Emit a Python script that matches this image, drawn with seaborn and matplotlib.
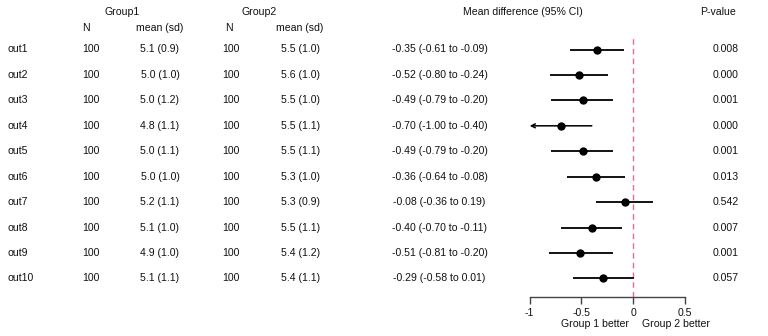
import numpy as np
import pandas as pd
import matplotlib
matplotlib.use("Agg")
import matplotlib.pyplot as plt
import matplotlib.transforms as mtransforms
import seaborn as sns

outcomes = ["out1", "out2", "out3", "out4", "out5", "out6", "out7", "out8", "out9", "out10"]
n1 = [100] * 10
mean1 = [5.1, 5.0, 5.0, 4.8, 5.0, 5.0, 5.2, 5.1, 4.9, 5.1]
sd1 = [0.9, 1.0, 1.2, 1.1, 1.1, 1.0, 1.1, 1.0, 1.0, 1.1]
n2 = [100] * 10
mean2 = [5.5, 5.6, 5.5, 5.5, 5.5, 5.3, 5.3, 5.5, 5.4, 5.4]
sd2 = [1.0, 1.0, 1.0, 1.1, 1.1, 1.0, 0.9, 1.1, 1.2, 1.1]
est = [-0.35, -0.52, -0.49, -0.70, -0.49, -0.36, -0.08, -0.40, -0.51, -0.29]
lo = [-0.61, -0.80, -0.79, -1.00, -0.79, -0.64, -0.36, -0.70, -0.81, -0.58]
hi = [-0.09, -0.24, -0.20, -0.40, -0.20, -0.08, 0.19, -0.11, -0.20, 0.01]
pval = [0.008, 0.000, 0.001, 0.000, 0.001, 0.013, 0.542, 0.007, 0.001, 0.057]
xticks = [-1, -0.5, 0, 0.5]
xticklabels = ["-1", "-0.5", "0", "0.5"]
xlim = (-1.0, 0.5)

df = pd.DataFrame({"outcome": outcomes, "est": est, "lo": lo, "hi": hi,
                   "row": np.arange(len(outcomes))})

sns.set_style("white")
plt.rcParams["font.family"] = ["Liberation Sans", "DejaVu Sans"]
FS = 7.6
TXT = "#111111"

W, H = 768, 336
fig = plt.figure(figsize=(W / 100, H / 100), dpi=100)

# forest axes placement in pixels
x0, x1 = 529.7, 685.0
ytop, ybot = 36.0, 296.5
row0, step = 49.5, 25.44
ax = fig.add_axes([x0 / W, (H - ybot) / H, (x1 - x0) / W, (ybot - ytop) / H])
ax.set_xlim(*xlim)
ax.set_ylim((ybot - row0) / step, (ytop - row0) / step)
ax.patch.set_alpha(0)

# dashed reference line
ax.axvline(0, color="#E0708A", lw=1.0, dashes=(4, 3), zorder=1)

# confidence intervals
for _, r in df.iterrows():
    if r["lo"] <= xlim[0]:
        ax.annotate("", xy=(xlim[0], r["row"]), xytext=(r["hi"], r["row"]),
                    arrowprops=dict(arrowstyle="->", lw=1.1, color="black",
                                    shrinkA=0, shrinkB=0, mutation_scale=7),
                    zorder=2)
    else:
        ax.hlines(r["row"], r["lo"], r["hi"], color="black", lw=1.3, zorder=2)

sns.scatterplot(data=df, x="est", y="row", ax=ax, s=36, color="black",
                edgecolor="black", linewidth=0, zorder=3, legend=False)
ax.set_xlim(*xlim)
ax.set_ylim((ybot - row0) / step, (ytop - row0) / step)

for s in ["top", "right", "left"]:
    ax.spines[s].set_visible(False)
ax.spines["bottom"].set_color("#444444")
ax.spines["bottom"].set_linewidth(1.0)
ax.set_yticks([])
ax.set_xticks(xticks)
ax.set_xticklabels(xticklabels)
ax.tick_params(axis="x", direction="out", length=5, width=1.0, color="#444444",
               labelsize=FS, labelcolor=TXT, pad=3, bottom=True)
ax.set_xlabel("")
ax.set_ylabel("")

# text table using blended transform (x in pixels, y in row units)
tr = mtransforms.blended_transform_factory(
    mtransforms.Affine2D().scale(1 / W, 1) + fig.transFigure
    if False else fig.transFigure, ax.transData)

def txt(xpx, row, s, ha="center"):
    fig.text(xpx / W, 0, s, transform=tr, ha=ha, va="center",
             fontsize=FS, color=TXT)
    return None

def ftext(xpx, ypx, s, ha="center"):
    fig.text(xpx / W, 1 - ypx / H, s, ha=ha, va="center", fontsize=FS, color=TXT)

# headers
ftext(122, 12, "Group1")
ftext(259, 12, "Group2")
ftext(523, 12, "Mean difference (95% CI)")
ftext(718, 12, "P-value")
ftext(86, 28, "N")
ftext(160, 28, "mean (sd)")
ftext(229, 28, "N")
ftext(300, 28, "mean (sd)")

for i in range(len(outcomes)):
    y = i
    fig.text(7 / W, y, outcomes[i], transform=tr, ha="left", va="center", fontsize=FS, color=TXT)
    fig.text(91 / W, y, f"{n1[i]}", transform=tr, ha="center", va="center", fontsize=FS, color=TXT)
    fig.text(160 / W, y, f"{mean1[i]:.1f} ({sd1[i]:.1f})", transform=tr, ha="center", va="center", fontsize=FS, color=TXT)
    fig.text(231 / W, y, f"{n2[i]}", transform=tr, ha="center", va="center", fontsize=FS, color=TXT)
    fig.text(300.5 / W, y, f"{mean2[i]:.1f} ({sd2[i]:.1f})", transform=tr, ha="center", va="center", fontsize=FS, color=TXT)
    fig.text(439.5 / W, y, f"{est[i]:.2f} ({lo[i]:.2f} to {hi[i]:.2f})", transform=tr, ha="center", va="center", fontsize=FS, color=TXT)
    fig.text(726 / W, y, f"{pval[i]:.3f}", transform=tr, ha="center", va="center", fontsize=FS, color=TXT)

# bottom labels
ftext(629, 324, "Group 1 better", ha="right")
ftext(641.5, 324, "Group 2 better", ha="left")

fig.savefig("out.png", dpi=100)
